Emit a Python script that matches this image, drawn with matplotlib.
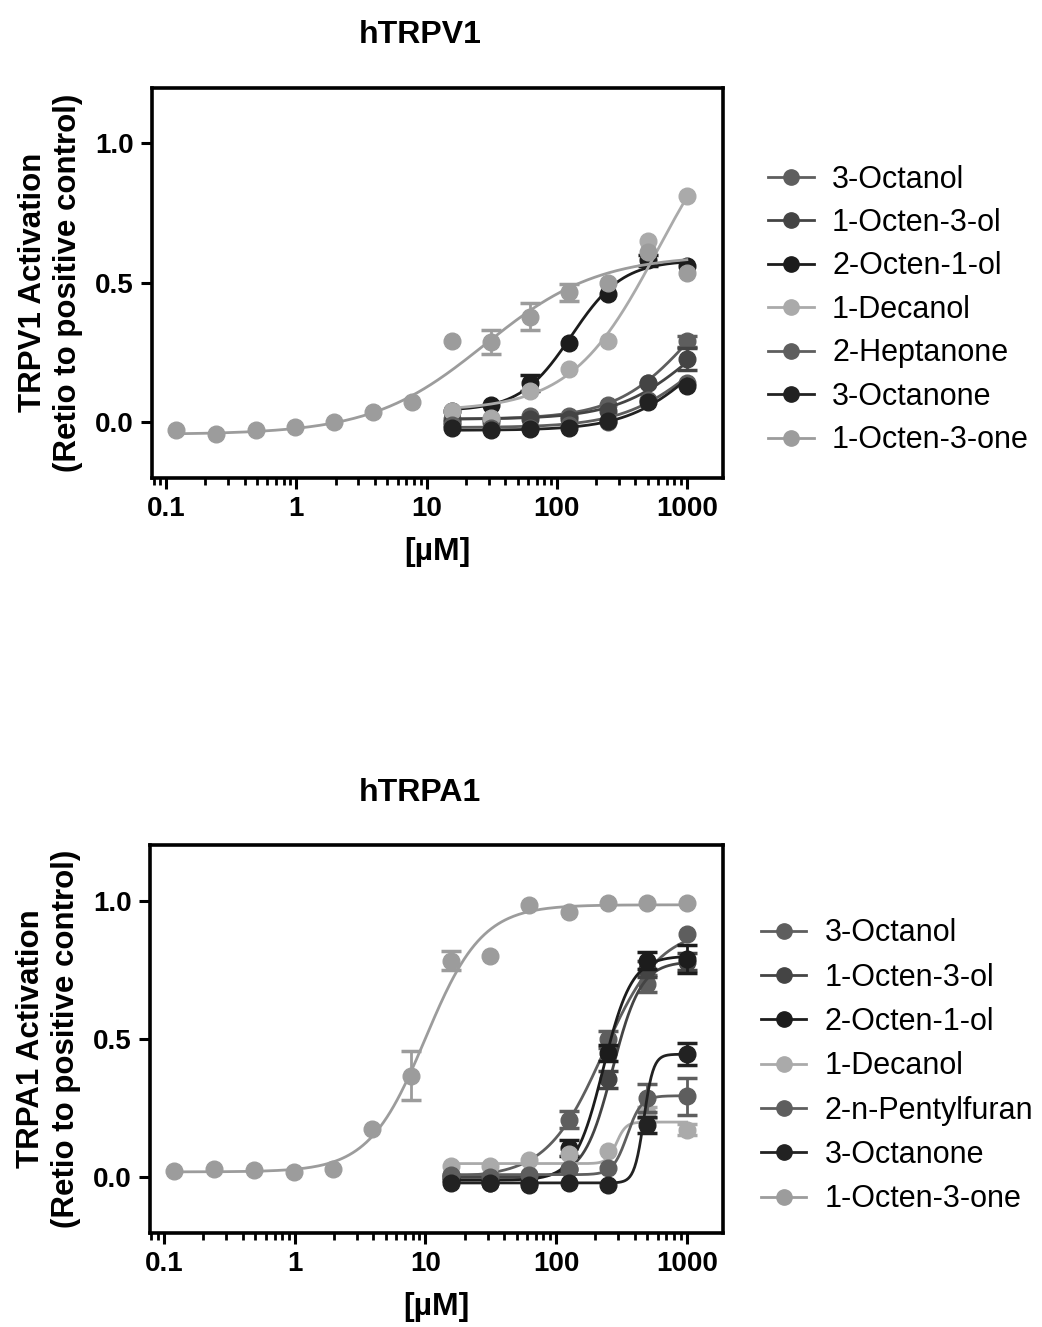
import numpy as np
import matplotlib
matplotlib.use("Agg")
import matplotlib.pyplot as plt
from matplotlib.ticker import LogLocator, NullFormatter, FixedLocator

plt.rcParams['font.family'] = ['Liberation Sans', 'DejaVu Sans']

# Concentrations (uM)
conc_full = [0.12, 0.24, 0.49, 0.98, 1.95, 3.9, 7.8, 15.6, 31.25, 62.5, 125, 250, 500, 1000]
conc_hi = [15.6, 31.25, 62.5, 125, 250, 500, 1000]

# ---- hTRPV1 ----
trpv1_names = ['3-Octanol', '1-Octen-3-ol', '2-Octen-1-ol', '1-Decanol',
               '2-Heptanone', '3-Octanone', '1-Octen-3-one']
trpv1_3octanol = [0.01, 0.0, 0.02, 0.02, 0.06, 0.14, 0.29]
trpv1_1octen3ol = [0.0, 0.01, 0.01, 0.01, 0.04, 0.14, 0.225]
trpv1_2octen1ol = [0.04, 0.06, 0.14, 0.285, 0.46, 0.58, 0.56]
trpv1_1decanol = [0.04, 0.015, 0.11, 0.19, 0.29, 0.65, 0.81]
trpv1_2heptanone = [-0.01, -0.02, -0.02, -0.01, 0.0, 0.08, 0.14]
trpv1_3octanone = [-0.02, -0.03, -0.025, -0.02, 0.005, 0.07, 0.13]
trpv1_1octen3one = [-0.028, -0.043, -0.030, -0.019, 0.0, 0.035, 0.073,
                    0.29, 0.287, 0.378, 0.465, 0.50, 0.61, 0.535]
trpv1_err_3octanol = [0, 0, 0, 0, 0, 0, 0.02]
trpv1_err_1octen3ol = [0, 0, 0, 0, 0, 0, 0.04]
trpv1_err_2octen1ol = [0, 0, 0.03, 0, 0, 0.02, 0]
trpv1_err_1octen3one = [0, 0, 0, 0, 0, 0, 0, 0, 0.044, 0.048, 0.03, 0, 0, 0]
# fitted 4PL parameters: bottom, top, EC50, Hill slope
trpv1_fit_bottom = [0.01, 0.01, 0.04, 0.04, -0.02, -0.03, -0.045]
trpv1_fit_top = [0.6, 0.45, 0.58, 1.2, 0.4, 0.4, 0.60]
trpv1_fit_ec50 = [1100, 1100, 130, 600, 1200, 1200, 28]
trpv1_fit_hill = [1.5, 1.5, 2.2, 1.3, 1.5, 1.6, 1.0]

# ---- hTRPA1 ----
trpa1_names = ['3-Octanol', '1-Octen-3-ol', '2-Octen-1-ol', '1-Decanol',
               '2-n-Pentylfuran', '3-Octanone', '1-Octen-3-one']
trpa1_3octanol = [0.01, 0.0, 0.01, 0.209, 0.499, 0.70, 0.879]
trpa1_1octen3ol = [0.0, -0.01, 0.0, 0.03, 0.354, 0.753, 0.78]
trpa1_2octen1ol = [-0.01, -0.02, -0.02, 0.106, 0.45, 0.783, 0.79]
trpa1_1decanol = [0.04, 0.04, 0.064, 0.083, 0.094, 0.233, 0.173]
trpa1_pentylfuran = [0.01, 0.0, 0.01, 0.03, 0.034, 0.287, 0.293]
trpa1_3octanone = [-0.02, -0.02, -0.027, -0.02, -0.027, 0.19, 0.445]
trpa1_1octen3one = [0.025, 0.031, 0.028, 0.018, 0.03, 0.176, 0.368,
                    0.783, 0.80, 0.984, 0.96, 0.99, 0.99, 0.99]
trpa1_err_3octanol = [0, 0, 0, 0.03, 0.03, 0.03, 0]
trpa1_err_1octen3ol = [0, 0, 0, 0, 0.03, 0.03, 0.03]
trpa1_err_2octen1ol = [0, 0, 0, 0.03, 0.03, 0.03, 0.05]
trpa1_err_1decanol = [0, 0, 0, 0, 0, 0.02, 0.02]
trpa1_err_pentylfuran = [0, 0, 0, 0, 0, 0.05, 0.066]
trpa1_err_3octanone = [0, 0, 0, 0, 0, 0.03, 0.04]
trpa1_err_1octen3one = [0, 0, 0, 0, 0, 0, 0.087, 0.035, 0, 0, 0, 0, 0, 0]
trpa1_fit_bottom = [0.0, 0.0, -0.01, 0.05, 0.01, -0.02, 0.02]
trpa1_fit_top = [0.9, 0.78, 0.80, 0.20, 0.295, 0.445, 0.985]
trpa1_fit_ec50 = [230, 270, 230, 290, 350, 470, 10]
trpa1_fit_hill = [2.0, 4.0, 4.0, 12, 8, 12, 2.0]

# grey levels of the seven compounds (legend order)
series_colors = ['#5e5e5e', '#444444', '#1c1c1c', '#aaaaaa', '#5e5e5e', '#222222', '#9c9c9c']


def hill(x, bottom, top, ec50, slope):
    """Four parameter logistic curve"""
    return bottom + (top - bottom) / (1 + (ec50 / x) ** slope)


def draw_panel(ax, names, concs, values, errors, fit, title, ylabel):
    """Draw one dose response panel with fitted curves"""
    bottoms, tops, ec50s, slopes = fit
    for i, name in enumerate(names):
        x = np.array(concs[i])
        y = np.array(values[i])
        err = np.array(errors[i])
        col = series_colors[i]
        # fitted curve over the tested range
        xs = np.logspace(np.log10(x.min()), np.log10(x.max()), 300)
        ax.plot(xs, hill(xs, bottoms[i], tops[i], ec50s[i], slopes[i]),
                color=col, lw=2.0, zorder=2 + i)
        mask = err > 0
        if mask.any():
            ax.errorbar(x[mask], y[mask], yerr=err[mask], fmt='none', ecolor=col,
                        elinewidth=2, capsize=7, capthick=2.5, zorder=2 + i)
        ax.plot(x, y, 'o', color=col, ms=12, mec=col, zorder=3 + i)
        # legend handle: line with marker
        ax.plot([], [], '-o', color=col, ms=11, lw=2, label=name)

    ax.set_xscale('log')
    ax.set_xlim(0.078, 1900)
    ax.set_ylim(-0.2, 1.2)
    ax.yaxis.set_major_locator(FixedLocator([0.0, 0.5, 1.0]))
    ax.set_yticklabels(['0.0', '0.5', '1.0'])
    ax.xaxis.set_major_locator(FixedLocator([0.1, 1, 10, 100, 1000]))
    ax.set_xticklabels(['0.1', '1', '10', '100', '1000'])
    ax.xaxis.set_minor_locator(LogLocator(base=10, subs=np.arange(2, 10), numticks=20))
    ax.xaxis.set_minor_formatter(NullFormatter())

    for side in ax.spines.values():
        side.set_linewidth(2.6)
    ax.tick_params(axis='both', which='major', direction='out', length=8, width=2.2,
                   labelsize=20, pad=5)
    ax.tick_params(axis='x', which='minor', direction='out', length=5, width=2)
    for lab in ax.get_xticklabels() + ax.get_yticklabels():
        lab.set_fontweight('bold')

    ax.set_title(title, fontsize=23, fontweight='bold', pad=32, x=0.47)
    ax.set_xlabel('[\u00b5M]', fontsize=23, fontweight='bold', labelpad=11)
    ax.set_ylabel(ylabel, fontsize=22.5, fontweight='bold', labelpad=9, linespacing=1.22)


fig = plt.figure(figsize=(10.42, 13.27), dpi=100)
ax1 = fig.add_axes([0.146, 0.640, 0.548, 0.294])
ax2 = fig.add_axes([0.144, 0.071, 0.550, 0.292])

trpv1_concs = [conc_hi] * 6 + [conc_full]
trpv1_values = [trpv1_3octanol, trpv1_1octen3ol, trpv1_2octen1ol, trpv1_1decanol,
                trpv1_2heptanone, trpv1_3octanone, trpv1_1octen3one]
trpv1_errors = [trpv1_err_3octanol, trpv1_err_1octen3ol, trpv1_err_2octen1ol, [0] * 7,
                [0] * 7, [0] * 7, trpv1_err_1octen3one]
draw_panel(ax1, trpv1_names, trpv1_concs, trpv1_values, trpv1_errors,
           (trpv1_fit_bottom, trpv1_fit_top, trpv1_fit_ec50, trpv1_fit_hill),
           'hTRPV1', 'TRPV1 Activation\n(Retio to positive control)')

trpa1_concs = [conc_hi] * 6 + [conc_full]
trpa1_values = [trpa1_3octanol, trpa1_1octen3ol, trpa1_2octen1ol, trpa1_1decanol,
                trpa1_pentylfuran, trpa1_3octanone, trpa1_1octen3one]
trpa1_errors = [trpa1_err_3octanol, trpa1_err_1octen3ol, trpa1_err_2octen1ol,
                trpa1_err_1decanol, trpa1_err_pentylfuran, trpa1_err_3octanone,
                trpa1_err_1octen3one]
draw_panel(ax2, trpa1_names, trpa1_concs, trpa1_values, trpa1_errors,
           (trpa1_fit_bottom, trpa1_fit_top, trpa1_fit_ec50, trpa1_fit_hill),
           'hTRPA1', 'TRPA1 Activation\n(Retio to positive control)')

# legends to the right of each panel
for ax, left_x, top_y, spacing in ((ax1, 0.737, 0.876, 0.44), (ax2, 0.730, 0.308, 0.47)):
    ax.legend(loc='upper left', bbox_to_anchor=(left_x, top_y), bbox_transform=fig.transFigure,
              frameon=False, fontsize=22, handlelength=1.5, handletextpad=0.6,
              labelspacing=spacing, borderpad=0.0, borderaxespad=0.0)

fig.savefig('out.png', dpi=100)
